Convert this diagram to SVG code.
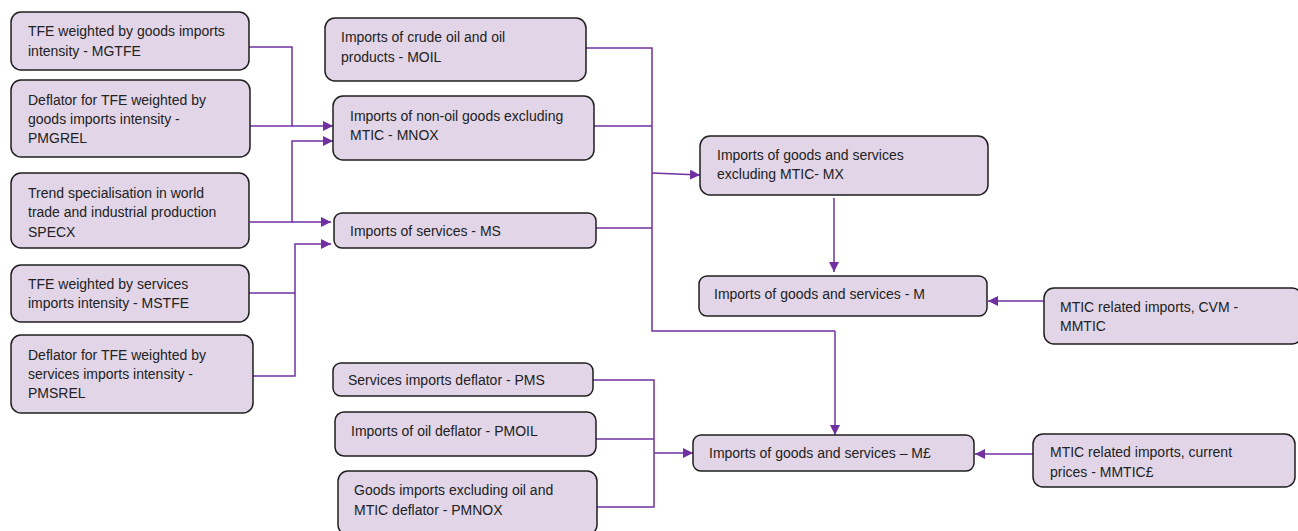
<svg xmlns="http://www.w3.org/2000/svg" width="1298" height="531" viewBox="0 0 1298 531">
  <style>
    .box { fill: #e1d5e7; stroke: #1f1f1f; stroke-width: 1.5; }
    .lbl { font-family: "Liberation Sans", Arial, sans-serif; font-size: 14px; fill: #222222; }
    .wire { fill: none; stroke: #7030a0; stroke-width: 1.5; }
    .arr { fill: none; stroke: #7030a0; stroke-width: 1.5; marker-end: url(#head); }
  </style>
  <defs>
    <marker id="head" viewBox="0 0 10 10" refX="10" refY="5" markerWidth="10" markerHeight="10" markerUnits="userSpaceOnUse" orient="auto">
      <path d="M0,0 L10,5 L0,10 z" fill="#7030a0"/>
    </marker>
  </defs>
  <rect width="1298" height="531" fill="#ffffff"/>

  <!-- connectors -->
  <g id="connectors">
    <!-- goods demand inputs into MNOX -->
    <polyline class="wire" points="249,47 292,47 292,126"/>
    <line class="arr" x1="250" y1="126" x2="333" y2="126"/>
    <polyline class="arr" points="250,222 292,222 292,141 333,141"/>
    <!-- SPECX into MS -->
    <line class="arr" x1="292" y1="222" x2="331" y2="222"/>
    <!-- services demand inputs into MS -->
    <polyline class="wire" points="249,293 295,293"/>
    <polyline class="arr" points="253,376 295,376 295,244 331,244"/>
    <!-- components into MX and M£ -->
    <polyline class="wire" points="586,48 652,48 652,331 835,331"/>
    <line class="wire" x1="594" y1="126" x2="652" y2="126"/>
    <line class="wire" x1="596" y1="228" x2="652" y2="228"/>
    <line class="arr" x1="652" y1="173" x2="700" y2="175"/>
    <line class="arr" x1="835" y1="331" x2="835" y2="435"/>
    <!-- MX into M -->
    <line class="arr" x1="834" y1="198" x2="834" y2="272"/>
    <!-- MMTIC into M -->
    <line class="arr" x1="1044" y1="301" x2="988" y2="301"/>
    <!-- deflators into M£ -->
    <polyline class="wire" points="593,380 654,380 654,507 597,507"/>
    <line class="wire" x1="596" y1="439" x2="654" y2="439"/>
    <line class="arr" x1="654" y1="453" x2="693" y2="453"/>
    <!-- MMTIC£ into M£ -->
    <line class="arr" x1="1033" y1="454" x2="975" y2="454"/>
  </g>

  <g id="n-mgtfe">
    <rect class="box" x="11" y="12" width="238" height="58" rx="10"/>
    <text class="lbl" x="28" y="36">TFE weighted by goods imports</text>
    <text class="lbl" x="28" y="56">intensity - MGTFE</text>
  </g>
  <g id="n-pmgrel">
    <rect class="box" x="11" y="80" width="239" height="77" rx="10"/>
    <text class="lbl" x="28" y="105">Deflator for TFE weighted by</text>
    <text class="lbl" x="28" y="124">goods imports intensity -</text>
    <text class="lbl" x="28" y="143">PMGREL</text>
  </g>
  <g id="n-specx">
    <rect class="box" x="11" y="173" width="238" height="75" rx="10"/>
    <text class="lbl" x="28" y="198">Trend specialisation in world</text>
    <text class="lbl" x="28" y="217">trade and industrial production</text>
    <text class="lbl" x="28" y="237">SPECX</text>
  </g>
  <g id="n-mstfe">
    <rect class="box" x="11" y="265" width="238" height="57" rx="10"/>
    <text class="lbl" x="28" y="289">TFE weighted by services</text>
    <text class="lbl" x="28" y="308">imports intensity - MSTFE</text>
  </g>
  <g id="n-pmsrel">
    <rect class="box" x="11" y="335" width="242" height="78" rx="10"/>
    <text class="lbl" x="28" y="360">Deflator for TFE weighted by</text>
    <text class="lbl" x="28" y="379">services imports intensity -</text>
    <text class="lbl" x="28" y="398">PMSREL</text>
  </g>
  <g id="n-moil">
    <rect class="box" x="325" y="18" width="261" height="63" rx="10"/>
    <text class="lbl" x="341" y="42">Imports of crude oil and oil</text>
    <text class="lbl" x="341" y="62">products - MOIL</text>
  </g>
  <g id="n-mnox">
    <rect class="box" x="333" y="96" width="261" height="64" rx="10"/>
    <text class="lbl" x="350" y="121">Imports of non-oil goods excluding</text>
    <text class="lbl" x="350" y="140">MTIC - MNOX</text>
  </g>
  <g id="n-ms">
    <rect class="box" x="334" y="213" width="262" height="35" rx="8"/>
    <text class="lbl" x="350" y="236">Imports of services - MS</text>
  </g>
  <g id="n-mx">
    <rect class="box" x="700" y="136" width="288" height="59" rx="10"/>
    <text class="lbl" x="717" y="160">Imports of goods and services</text>
    <text class="lbl" x="717" y="179">excluding MTIC- MX</text>
  </g>
  <g id="n-m">
    <rect class="box" x="699" y="276" width="288" height="40" rx="8"/>
    <text class="lbl" x="714" y="299">Imports of goods and services - M</text>
  </g>
  <g id="n-mmtic">
    <rect class="box" x="1044" y="288" width="258" height="56" rx="10"/>
    <text class="lbl" x="1060" y="312">MTIC related imports, CVM -</text>
    <text class="lbl" x="1060" y="331">MMTIC</text>
  </g>
  <g id="n-pms">
    <rect class="box" x="333" y="363" width="260" height="33" rx="8"/>
    <text class="lbl" x="348" y="385">Services imports deflator - PMS</text>
  </g>
  <g id="n-pmoil">
    <rect class="box" x="335" y="412" width="261" height="44" rx="9"/>
    <text class="lbl" x="351" y="436">Imports of oil deflator - PMOIL</text>
  </g>
  <g id="n-pmnox">
    <rect class="box" x="338" y="471" width="259" height="64" rx="10"/>
    <text class="lbl" x="354" y="495">Goods imports excluding oil and</text>
    <text class="lbl" x="354" y="515">MTIC deflator - PMNOX</text>
  </g>
  <g id="n-mcp">
    <rect class="box" x="693" y="435" width="281" height="36" rx="8"/>
    <text class="lbl" x="709" y="458">Imports of goods and services – M£</text>
  </g>
  <g id="n-mmticcp">
    <rect class="box" x="1033" y="434" width="262" height="53" rx="10"/>
    <text class="lbl" x="1050" y="457">MTIC related imports, current</text>
    <text class="lbl" x="1050" y="477">prices - MMTIC£</text>
  </g>
</svg>
